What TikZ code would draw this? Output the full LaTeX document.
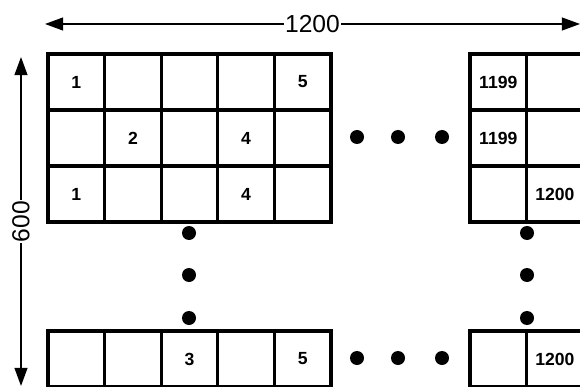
\documentclass[tikz,border=0pt]{standalone}
\usepackage{fontspec}
\setmainfont{Liberation Sans}
\usetikzlibrary{arrows.meta}

\tikzset{
  cell/.style={draw, line width=2.4pt, minimum width=1.415cm, minimum height=1.4cm,
    inner sep=0pt, font=\fontsize{12.5}{13}\selectfont\bfseries},
  dot/.style={circle, fill=black, inner sep=0pt, minimum size=0.35cm},
  dim/.style={line width=1.1pt, {Triangle[length=0.45cm,width=0.32cm]}-{Triangle[length=0.45cm,width=0.32cm]}},
  dimlabel/.style={fill=white, inner sep=1pt, font=\fontsize{17.5}{18}\selectfont},
}

\begin{document}
\begin{tikzpicture}[x=0.025cm, y=-0.025cm]

\useasboundingbox (0,0) rectangle (580,387);
\clip (0,0) rectangle (580,387);

% ===================== dimension arrows =====================
\coordinate (wL) at (45,24);
\coordinate (wR) at (580,24);
\draw[dim] (wL) -- (wR) node[midway, dimlabel] (wlab) {1200};

\coordinate (hT) at (21,57);
\coordinate (hB) at (21,386);
\draw[dim] (hT) -- (hB) node[midway, dimlabel, rotate=90] (hlab) {600};

% ===================== first block: 3 x 5 =====================
\foreach \row [count=\r] in {{1,{},{},{},5},{{},2,{},4,{}},{1,{},{},4,{}}}{
  \foreach \t [count=\c] in \row{
    \node[cell] (L\r\c) at ({48+56.6*(\c-0.5)},{54+56*(\r-0.5)}) {\t};
  }
}

% ===================== last block: 3 x 2 =====================
\foreach \row [count=\r] in {{1199,{}},{1199,{}},{{},1200}}{
  \foreach \t [count=\c] in \row{
    \node[cell] (R\r\c) at ({470+56.6*(\c-0.5)},{54+56*(\r-0.5)}) {\t};
  }
}

% ===================== bottom row =====================
\foreach \t [count=\c] in {{},{},3,{},5}{
  \node[cell] (B\c) at ({48+56.6*(\c-0.5)},{331+56*0.5}) {\t};
}
\foreach \t [count=\c] in {{},1200}{
  \node[cell] (BR\c) at ({470+56.6*(\c-0.5)},{331+56*0.5}) {\t};
}

% ---- ellipsis dots ----
\foreach \x [count=\i] in {357,398,442}{
  \node[dot] (dtop\i) at (\x,137) {};
  \node[dot] (dbot\i) at (\x,358) {};
}
\foreach \y [count=\i] in {233,275,318}{
  \node[dot] (dleft\i) at (189,\y) {};
  \node[dot] (dright\i) at (527,\y) {};
}

\end{tikzpicture}
\end{document}
